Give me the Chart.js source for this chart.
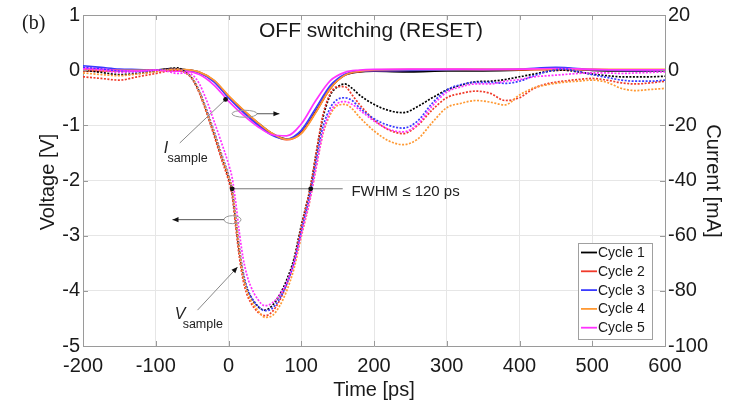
<!DOCTYPE html>
<html>
<head>
<meta charset="utf-8">
<script src="https://cdn.jsdelivr.net/npm/chart.js@4.4.1/dist/chart.umd.min.js"></script>
<style>
  html, body { margin: 0; padding: 0; background: #fff; overflow: hidden; }
  canvas { display: block; }
</style>
</head>
<body>
<canvas id="c" width="734" height="401"></canvas>
<script>
// Sample voltage traces (V) — time axis in ps
const timeV = [-200,-175,-150,-125,-100,-85,-70,-60,-50,-40,-30,-20,-10,0,5,10,15,20,25,30,
  40,50,60,70,80,90,95,100,105,110,115,120,125,130,140,150,160,170,180,
  200,220,240,260,280,300,320,340,360,380,400,420,440,460,480,500,520,540,560,580,600];

const voltageCycle1 = [0.0,-0.04,-0.08,-0.06,-0.02,0.02,0.04,-0.03,-0.15,-0.4,-0.75,-1.15,-1.55,-1.95,-2.2,-2.75,-3.3,-3.7,-3.95,-4.1,
  -4.28,-4.35,-4.27,-4.08,-3.8,-3.42,-3.12,-2.82,-2.55,-2.28,-1.95,-1.55,-1.18,-0.85,-0.45,-0.3,-0.25,-0.33,-0.45,
  -0.62,-0.73,-0.77,-0.66,-0.5,-0.36,-0.27,-0.21,-0.2,-0.17,-0.12,-0.07,-0.02,0.0,-0.03,-0.07,-0.1,-0.12,-0.12,-0.12,-0.11];
const voltageCycle2 = [-0.12,-0.15,-0.18,-0.12,-0.06,-0.02,0.0,-0.04,-0.16,-0.42,-0.78,-1.18,-1.6,-2.0,-2.28,-2.85,-3.4,-3.8,-4.05,-4.2,
  -4.38,-4.45,-4.38,-4.18,-3.88,-3.47,-3.16,-2.85,-2.56,-2.28,-1.94,-1.54,-1.15,-0.8,-0.42,-0.3,-0.3,-0.45,-0.62,
  -0.9,-1.08,-1.15,-1.0,-0.72,-0.5,-0.42,-0.38,-0.42,-0.55,-0.5,-0.33,-0.24,-0.2,-0.17,-0.15,-0.18,-0.23,-0.25,-0.23,-0.2];
const voltageCycle3 = [0.05,0.02,-0.02,-0.03,0.0,0.01,0.02,-0.03,-0.14,-0.38,-0.72,-1.1,-1.5,-1.9,-2.15,-2.68,-3.22,-3.65,-3.92,-4.08,
  -4.27,-4.36,-4.32,-4.15,-3.88,-3.5,-3.22,-2.93,-2.65,-2.38,-2.05,-1.68,-1.32,-1.02,-0.68,-0.53,-0.5,-0.55,-0.68,
  -0.88,-1.0,-1.05,-0.92,-0.6,-0.36,-0.26,-0.22,-0.22,-0.24,-0.2,-0.1,-0.02,0.02,-0.02,-0.08,-0.13,-0.18,-0.2,-0.2,-0.18];
const voltageCycle4 = [-0.05,-0.08,-0.1,-0.07,-0.03,0.0,0.02,-0.04,-0.14,-0.39,-0.74,-1.12,-1.52,-1.92,-2.15,-2.7,-3.25,-3.7,-3.98,-4.15,
  -4.35,-4.48,-4.45,-4.28,-4.0,-3.6,-3.32,-3.02,-2.75,-2.48,-2.15,-1.8,-1.45,-1.15,-0.8,-0.64,-0.62,-0.7,-0.85,
  -1.1,-1.28,-1.35,-1.25,-0.95,-0.68,-0.6,-0.55,-0.58,-0.63,-0.45,-0.32,-0.26,-0.22,-0.2,-0.18,-0.22,-0.33,-0.37,-0.35,-0.33];
const voltageCycle5 = [0.02,0.0,-0.04,-0.02,0.0,-0.02,-0.06,-0.05,-0.08,-0.25,-0.55,-0.92,-1.3,-1.7,-1.95,-2.4,-2.95,-3.4,-3.7,-3.9,
  -4.15,-4.27,-4.22,-4.08,-3.85,-3.5,-3.25,-2.98,-2.72,-2.46,-2.14,-1.8,-1.45,-1.12,-0.75,-0.6,-0.57,-0.62,-0.72,
  -0.92,-1.07,-1.12,-0.98,-0.65,-0.4,-0.3,-0.25,-0.25,-0.2,-0.17,-0.12,-0.1,-0.08,-0.06,-0.05,-0.05,-0.06,-0.05,-0.04,-0.03];

// Sample current traces (mA)
const timeI = [-200,-175,-150,-125,-100,-80,-60,-40,-20,0,20,40,60,80,100,120,140,160,180,200,250,300,350,400,450,500,550,600];

const currentCycle1 = [0,0,0,0,0,0.6,0.2,-0.8,-3.8,-9.5,-14.5,-19,-23,-25,-22.6,-15,-6.5,-1.8,-0.6,-0.4,-0.6,-0.3,-0.3,0,0.8,-0.1,-0.3,-0.3];
const currentCycle2 = [-0.3,-0.3,-0.2,-0.1,0,0.2,0.1,-0.8,-3.9,-9.6,-14.6,-19.2,-23.2,-25.2,-22.8,-15.2,-6.6,-1.8,-0.5,-0.2,0,0.2,0.2,0.1,0.2,0.2,0.1,0.1];
const currentCycle3 = [1.6,1.0,0.4,0.2,0,0.2,0,-0.9,-4.2,-10,-15.2,-19.8,-23.6,-25,-21.8,-13.8,-5.6,-1.5,-0.4,-0.2,-0.1,0.1,0.2,0.4,1.0,0.2,-0.1,-0.1];
const currentCycle4 = [0.2,0,-0.1,-0.1,0,0.3,0.2,-0.7,-3.6,-9.2,-14.3,-18.9,-22.9,-25.1,-23,-15.4,-6.6,-1.8,-0.4,0.1,0.3,0.3,0.3,0.3,0.3,0.3,0.3,0.3];
const currentCycle5 = [0.8,0.4,-0.2,-0.3,0,-0.3,-0.4,-1.6,-5.4,-11.2,-16.2,-20.4,-23.4,-23.8,-19.5,-11,-3.8,-0.8,0,0.3,0.4,0.4,0.3,0.4,0.6,0.3,0.1,0.1];

const cycleNames = ['Cycle 1','Cycle 2','Cycle 3','Cycle 4','Cycle 5'];
const cycleColors = ['#000000','#f03a2a','#3a3aff','#ff9933','#ff33ff'];

// Axis ranges and tick steps
const timeRange = [-200, 600], timeStep = 100;
const voltRange = [-5, 1], voltStep = 1;
const currRange = [-100, 20], currStep = 20;

const voltages = [voltageCycle1, voltageCycle2, voltageCycle3, voltageCycle4, voltageCycle5];
const currents = [currentCycle1, currentCycle2, currentCycle3, currentCycle4, currentCycle5];

const FONT = '"Liberation Sans", Arial, sans-serif';

const datasets = [];
for (let i = 0; i < 5; i++) {
  datasets.push({
    label: cycleNames[i],
    kind: 'current',
    data: timeI.map((t, k) => ({ x: t, y: currents[i][k] })),
    yAxisID: 'yI',
    borderColor: cycleColors[i],
    borderWidth: 1.7,
    pointRadius: 0,
    cubicInterpolationMode: 'monotone',
    order: 10 - i
  });
  datasets.push({
    label: cycleNames[i] + ' V',
    kind: 'voltage',
    data: timeV.map((t, k) => ({ x: t, y: voltages[i][k] })),
    yAxisID: 'yV',
    borderColor: cycleColors[i],
    borderWidth: 1.7,
    borderDash: [2, 1.5],
    pointRadius: 0,
    cubicInterpolationMode: 'monotone',
    order: 5 - i
  });
}

function arrow(ctx, x1, y1, x2, y2, head) {
  ctx.beginPath(); ctx.moveTo(x1, y1); ctx.lineTo(x2, y2); ctx.stroke();
  if (!head) return;
  const a = Math.atan2(y2 - y1, x2 - x1), L = 6, W = 2.6;
  ctx.beginPath();
  ctx.moveTo(x2, y2);
  ctx.lineTo(x2 - L * Math.cos(a) + W * Math.sin(a), y2 - L * Math.sin(a) - W * Math.cos(a));
  ctx.lineTo(x2 - L * Math.cos(a) - W * Math.sin(a), y2 - L * Math.sin(a) + W * Math.cos(a));
  ctx.closePath(); ctx.fill();
}
function dot(ctx, x, y) { ctx.beginPath(); ctx.arc(x, y, 2.4, 0, Math.PI * 2); ctx.fill(); }

const decorations = {
  id: 'decorations',
  afterDraw(chart) {
    const ctx = chart.ctx, a = chart.chartArea;
    const X = v => chart.scales.x.getPixelForValue(v);
    const YV = v => chart.scales.yV.getPixelForValue(v);
    ctx.save();

    // top edge of the axes box
    ctx.strokeStyle = '#9a9a9a'; ctx.lineWidth = 1;
    ctx.beginPath(); ctx.moveTo(a.left, a.top + 0.5); ctx.lineTo(a.right, a.top + 0.5); ctx.stroke();
    // inward tick marks
    ctx.beginPath();
    for (let t = timeRange[0]; t <= timeRange[1]; t += timeStep) {
      const px = Math.round(X(t)) + 0.5;
      ctx.moveTo(px, a.bottom); ctx.lineTo(px, a.bottom - 5);
      ctx.moveTo(px, a.top); ctx.lineTo(px, a.top + 5);
    }
    for (let v = voltRange[0]; v <= voltRange[1]; v += voltStep) {
      const py = Math.round(YV(v)) + 0.5;
      ctx.moveTo(a.left, py); ctx.lineTo(a.left + 5, py);
      ctx.moveTo(a.right, py); ctx.lineTo(a.right - 5, py);
    }
    ctx.stroke();

    ctx.fillStyle = '#1a1a1a';
    // panel tag and title
    ctx.font = '20px "Liberation Serif", "Times New Roman", serif';
    ctx.textAlign = 'left'; ctx.textBaseline = 'alphabetic';
    ctx.fillText('(b)', 22, 29);
    ctx.font = '21px ' + FONT;
    ctx.textAlign = 'center';
    ctx.fillText('OFF switching (RESET)', 371, 37);

    // axis titles
    ctx.font = '20px ' + FONT;
    ctx.fillText('Time [ps]', 374, 396);
    ctx.save(); ctx.translate(54, 182); ctx.rotate(-Math.PI / 2);
    ctx.fillText('Voltage [V]', 0, 0); ctx.restore();
    ctx.save(); ctx.translate(707, 181); ctx.rotate(Math.PI / 2);
    ctx.fillText('Current [mA]', 0, 0); ctx.restore();

    // FWHM marker
    const yF = YV(-2.15);
    ctx.strokeStyle = '#777'; ctx.fillStyle = '#111'; ctx.lineWidth = 1;
    arrow(ctx, X(5), yF, X(157), yF, false);
    dot(ctx, X(5), yF); dot(ctx, X(113), yF);
    ctx.fillStyle = '#222';
    ctx.font = '15px ' + FONT; ctx.textAlign = 'left';
    ctx.fillText('FWHM \u2264 120 ps', X(169), yF + 7);

    // axis pointers: voltage to the left axis, current to the right axis
    ctx.strokeStyle = '#999';
    ctx.beginPath(); ctx.ellipse(X(5.5), YV(-2.71), 8.5, 4, 0, 0, Math.PI * 2); ctx.stroke();
    ctx.beginPath(); ctx.ellipse(X(22), YV(-0.79), 12.5, 3.5, 0, 0, Math.PI * 2); ctx.stroke();
    ctx.strokeStyle = '#555'; ctx.fillStyle = '#111';
    arrow(ctx, X(5.5) - 8.5, YV(-2.71), X(-77), YV(-2.71), true);
    arrow(ctx, X(22) + 12.5, YV(-0.79), X(70), YV(-0.79), true);

    // sample labels with leader lines
    ctx.strokeStyle = '#888';
    arrow(ctx, X(-67), YV(-1.32), X(-4), YV(-0.53), false);
    dot(ctx, X(-4), YV(-0.53));
    arrow(ctx, X(-42.6), YV(-4.35), X(12.4), YV(-3.57), true);
    ctx.fillStyle = '#222';
    ctx.font = 'italic 16px ' + FONT; ctx.textAlign = 'left';
    ctx.fillText('I', X(-89), YV(-1.40) + 6);
    ctx.fillText('V', X(-74), YV(-4.40) + 6);
    ctx.font = '12.5px ' + FONT;
    ctx.fillText('sample', X(-84), YV(-1.57) + 5);
    ctx.fillText('sample', X(-63), YV(-4.59) + 5);

    // legend
    const lx = 578, ly = 243, lw = 74, lh = 96;
    ctx.fillStyle = '#fff'; ctx.fillRect(lx, ly, lw, lh);
    ctx.strokeStyle = '#a0a0a0'; ctx.lineWidth = 1;
    ctx.strokeRect(lx + 0.5, ly + 0.5, lw, lh);
    ctx.font = '14px ' + FONT;
    const entries = chart.data.datasets.filter(d => d.kind === 'current');
    entries.forEach((d, i) => {
      const base = 257 + i * 18.8;
      ctx.strokeStyle = d.borderColor; ctx.lineWidth = 1.8;
      ctx.beginPath(); ctx.moveTo(581, base - 4.5); ctx.lineTo(597, base - 4.5); ctx.stroke();
      ctx.fillStyle = '#1a1a1a';
      ctx.fillText(d.label, 598, base);
    });
    ctx.restore();
  }
};

new Chart(document.getElementById('c'), {
  type: 'line',
  data: { datasets },
  options: {
    responsive: false,
    animation: false,
    devicePixelRatio: 1,
    layout: { padding: { top: 15, left: 0, right: 0, bottom: 0 } },
    plugins: { legend: { display: false }, tooltip: { enabled: false } },
    scales: {
      x: {
        type: 'linear', min: timeRange[0], max: timeRange[1],
        ticks: { stepSize: timeStep, font: { family: FONT, size: 20 }, color: '#1a1a1a', padding: 8, maxRotation: 0 },
        grid: { color: '#e6e6e6', drawTicks: false },
        border: { color: '#9a9a9a' },
        afterFit(s) { s.height = 55; }
      },
      yV: {
        type: 'linear', position: 'left', min: voltRange[0], max: voltRange[1],
        ticks: { stepSize: voltStep, font: { family: FONT, size: 20 }, color: '#1a1a1a', padding: 3 },
        grid: { color: '#e6e6e6', drawTicks: false },
        border: { color: '#9a9a9a' },
        afterFit(s) { s.width = 83; }
      },
      yI: {
        type: 'linear', position: 'right', min: currRange[0], max: currRange[1],
        ticks: { stepSize: currStep, font: { family: FONT, size: 20 }, color: '#1a1a1a', padding: 3 },
        grid: { display: false, drawTicks: false },
        border: { color: '#9a9a9a' },
        afterFit(s) { s.width = 69; }
      }
    }
  },
  plugins: [decorations]
});
</script>
</body>
</html>
